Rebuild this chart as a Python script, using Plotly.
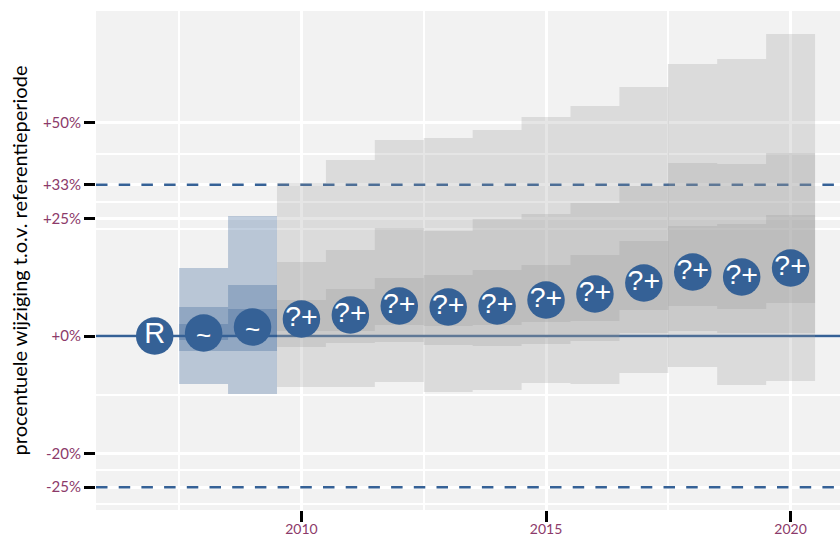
import plotly.graph_objects as go
import math

years = list(range(2008, 2021))
PX0, PXS = 336.0, 525.5
def v(p):
    return math.exp((PX0 - p) / PXS)

outer_top_px = [268,216,183,160,140,138,130,117,106,87,64,59,34]
outer_bot_px = [384,394,387,387,382,392,390,383,384,373,367,385,381]
mid_top_px = [307,285,262,250,228,231,219,214,203,186,163,164,153]
mid_bot_px = [351,351,347,343,342,345,346,344,341,333,331,333,333]
inner_top_px = [324,309,300,289,278,275,270,265,255,241,226,224,215]
inner_bot_px = [340,336,331,331,325,326,325,322,321,310,306,309,303]
mark_years = [2007] + list(range(2010, 2021))
mark_px = [336,319,315,306,307,306,300,294,283,272,277,268]
mark_text = ["R"] + ["?+"]*11
mark_font = [29] + [28.5]*11
tilde_years = [2008, 2009]
tilde_px = [333, 327]

ytick_vals = [0.75,0.8,1,1.25,4/3,1.5]
ytick_text = ["-25%","-20%","+0%","+25%","+33%","+50%"]
yminor_px = [154,202,229,395,470,504]
xticks = [2010,2015,2020]
xminor = [2007.5,2012.5,2017.5]
seam_x = [2017.5, 2017.5]
seam_px = [64, 367]

BLUE = "#356196"
LAB = "#8C3A6A"
fig = go.Figure()

def band(ys, top, bot, color, alpha):
    xs, yv = [], []
    for y, t in zip(ys, top):
        xs += [y-.5, y+.5]; yv += [v(t), v(t)]
    for y, b in zip(ys[::-1], bot[::-1]):
        xs += [y+.5, y-.5]; yv += [v(b), v(b)]
    fig.add_trace(go.Scatter(x=xs, y=yv, mode="lines", line=dict(width=0), fill="toself",
                             fillcolor=f"rgba({color},{alpha})", hoverinfo="skip", showlegend=False))

XR = [2005.80, 2021.01]
for val in (4/3, 0.75):
    fig.add_trace(go.Scatter(x=XR, y=[val, val], mode="lines", hoverinfo="skip", showlegend=False,
                             line=dict(color=BLUE, width=2.5, dash="11.5px,11.2px")))
fig.add_trace(go.Scatter(x=XR, y=[1,1], mode="lines", hoverinfo="skip", showlegend=False,
                         line=dict(color=BLUE, width=2.5)))

for top, bot in ((outer_top_px,outer_bot_px),(mid_top_px,mid_bot_px),(inner_top_px,inner_bot_px)):
    band(years[:2], top[:2], bot[:2], "53,97,150", 0.3)
    band(years[2:], top[2:], bot[2:], "153,153,153", 0.25)

fig.add_trace(go.Scatter(x=seam_x, y=[v(p) for p in seam_px], mode="lines", hoverinfo="skip", showlegend=False,
                         line=dict(color="rgba(0,0,0,0.07)", width=1)))

fig.add_trace(go.Scatter(x=mark_years, y=[v(p) for p in mark_px], mode="markers+text", showlegend=False,
    marker=dict(size=37.5, color=BLUE, line=dict(width=0)),
    text=mark_text, textposition="middle center",
    textfont=dict(family="Liberation Sans", size=mark_font, color="white")))
fig.add_trace(go.Scatter(x=tilde_years, y=[v(p) for p in tilde_px], mode="markers", showlegend=False,
    marker=dict(size=37.5, color=BLUE, line=dict(width=0))))
for yr, p in zip(tilde_years, tilde_px):
    fig.add_annotation(x=yr, y=math.log10(v(p)), text="~", showarrow=False, yshift=-2,
                       font=dict(family="Liberation Sans", size=26, color="white"))

fig.update_layout(
    width=840, height=537, autosize=False,
    margin=dict(l=96, r=0, t=11, b=27),
    paper_bgcolor="white", plot_bgcolor="#F2F2F2",
    font=dict(family="Lato"),
    xaxis=dict(range=XR, tickmode="array", tickvals=xticks, ticktext=[str(x) for x in xticks],
               automargin=False,
               showgrid=True, gridcolor="white", gridwidth=2.6, zeroline=False, showline=False,
               ticks="outside", ticklen=11, tickwidth=2.5, tickcolor="black", ticklabelstandoff=-5,
               tickfont=dict(color=LAB, size=14),
               minor=dict(tickmode="array", tickvals=xminor, showgrid=True, gridcolor="white", gridwidth=1.5, ticks="")),
    yaxis=dict(type="log", range=[(PX0-510)/PXS/math.log(10), (PX0-11)/PXS/math.log(10)],
               automargin=False,
               tickmode="array", tickvals=ytick_vals, ticktext=ytick_text,
               showgrid=True, gridcolor="white", gridwidth=2.6, zeroline=False, showline=False,
               ticks="outside", ticklen=11, tickwidth=2.5, tickcolor="black",
               tickfont=dict(color=LAB, size=15),
               title=dict(text="procentuele wijziging t.o.v. referentieperiode", standoff=9,
                          font=dict(size=20, color="black")),
               minor=dict(tickmode="array", tickvals=[v(p) for p in yminor_px], showgrid=True,
                          gridcolor="white", gridwidth=1.5, ticks="")),
)
fig.write_html("out.html", config={"displayModeBar": False},
               post_script="document.body.style.margin='0';document.documentElement.style.overflow='hidden';")
